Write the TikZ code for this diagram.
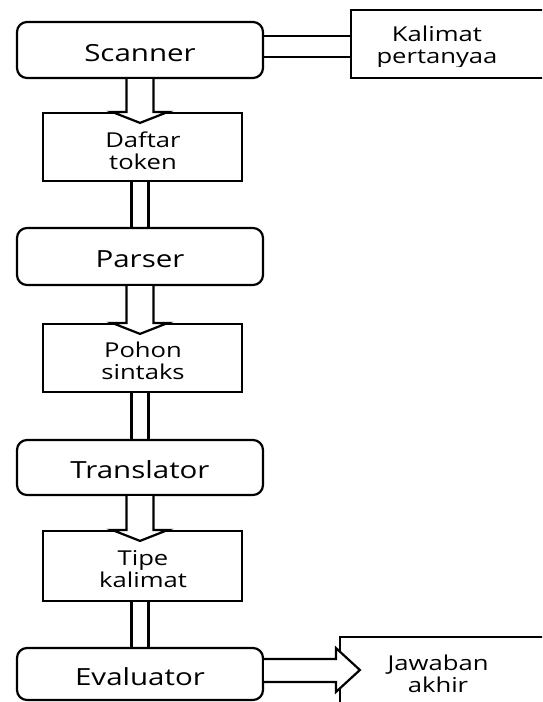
\documentclass[tikz,border=0pt]{standalone}
\usepackage{fontspec}
\setmainfont{Open Sans}[FakeStretch=1.25]
\usetikzlibrary{calc}
\tikzstyle{process}=[draw, rounded corners=10pt, minimum width=246pt, text height=22pt, text depth=0pt, font=\fontsize{23.6}{26}\selectfont]
\tikzstyle{data}=[draw, minimum width=199pt, minimum height=68pt]
\tikzstyle{caption}=[inner sep=0pt, align=center, font=\fontsize{20.5}{22}\selectfont]
\newcommand{\hollowdown}[2]{%
  \filldraw[fill=white] ($(#1.south)+(-13.5,0)$) -- ($(#1.south |- #2.north)+(-13.5,0)$)
    -- ($(#1.south |- #2.north)+(-28,0)$) -- ($(#1.south |- #2.north)+(0,11)$)
    -- ($(#1.south |- #2.north)+(28,0)$) -- ($(#1.south |- #2.north)+(13.5,0)$)
    -- ($(#1.south)+(13.5,0)$);}
\newcommand{\banddown}[2]{%
  \draw ($(#2.north)+(-8.5,0)$) -- ($(#2.north |- #1.south)+(-8.5,0)$);
  \draw ($(#2.north)+(8.5,0)$) -- ($(#2.north |- #1.south)+(8.5,0)$);}

\begin{document}
\begin{tikzpicture}[x=1pt, y=-1pt, line width=2.2pt]
    \clip (0,0) rectangle (542,702);
% Boxes
    \node[process, minimum height=56pt] (scanner) at (140,50) {Scanner};
    \node[data, minimum width=209pt] (kalimat) at (455.5,44) {};
    \node[data] (daftar) at (142.5,147) {};
    \node[process, minimum height=57pt] (parser) at (140,256.5) {Parser};
    \node[data] (pohon) at (142.5,358) {};
    \node[process, minimum height=55pt] (translator) at (140,467.5) {Translator};
    \node[data, minimum height=70pt] (tipe) at (142.5,566) {};
    \node[process, minimum height=52pt] (evaluator) at (140,674) {Evaluator};
    \node[data, minimum width=220pt, minimum height=100pt] (jawaban) at (450,687) {};
% Labels
    \node[caption] (daftar-t) at (143,151) {Daftar\\token};
    \node[caption] (pohon-t) at (143,360.5) {Pohon\\sintaks};
    \node[caption] (tipe-t) at (143,569.5) {Tipe\\kalimat};
    \node[caption] (jawaban-t) at (438,673.5) {Jawaban\\akhir};
    \begin{scope}
        \clip (kalimat.north west) rectangle (560,66);
        \node[caption] (kalimat-t) at (437,46.8) {Kalimat\\pertanyaa};
    \end{scope}
% Links
    \coordinate (s1) at ($(scanner.east)+(0,-14)$);
    \coordinate (s2) at ($(scanner.east)+(0,7)$);
    \draw (s1) -- (s1 -| kalimat.west);
    \draw (s2) -- (s2 -| kalimat.west);
    \hollowdown{scanner}{daftar}
    \banddown{daftar}{parser}
    \hollowdown{parser}{pohon}
    \banddown{pohon}{translator}
    \hollowdown{translator}{tipe}
    \banddown{tipe}{evaluator}
    \coordinate (h) at ($(jawaban.west |- evaluator.east)+(-3,-4)$);
    \filldraw[fill=white] ($(evaluator.east)+(0,-15)$) -- ($(h)+(0,-11)$) -- ($(h)+(0,-22)$)
        -- ($(h)+(24,0)$) -- ($(h)+(0,22)$) -- ($(h)+(0,12)$) -- ($(evaluator.east)+(0,8)$);
\end{tikzpicture}
\end{document}
